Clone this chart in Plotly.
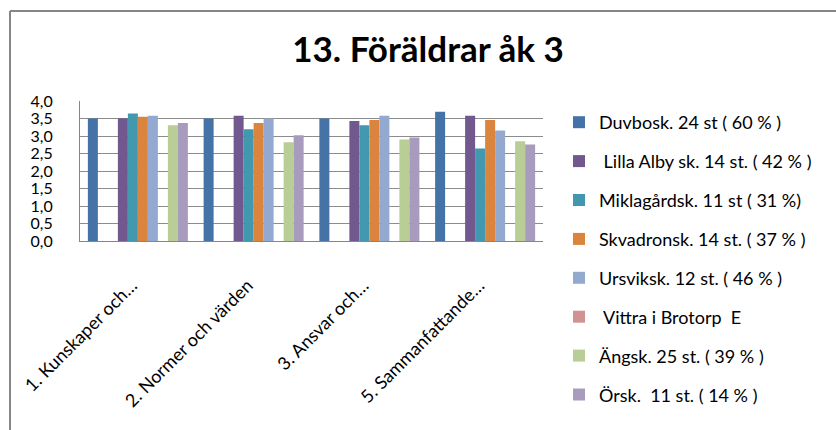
import plotly.graph_objects as go

# categories and series
categories = ["1. Kunskaper och…", "2. Normer och värden", "3. Ansvar och…", "5. Sammanfattande…"]

series_names = [
    "Duvbosk. 24 st ( 60 % )",
    "",
    "",
    "\u00a0Lilla Alby sk. 14 st. ( 42 % )",
    "Miklagårdsk. 11 st ( 31 %)",
    "Skvadronsk. 14 st. ( 37 % )",
    "Ursviksk. 12 st. ( 46 % )",
    "\u00a0Vittra i Brotorp\u00a0 E",
    "Ängsk. 25 st. ( 39 % )",
    "Örsk.\u00a0 11 st. ( 14 % )",
]
series_colors = [
    "#4572A7", "#AA4643", "#89A54E", "#71588F", "#4198AF",
    "#DB843D", "#93A9CF", "#D19392", "#B9CD96", "#A99BBD",
]

duvbosk = [3.50, 3.50, 3.50, 3.69]
empty_a = [None, None, None, None]
empty_b = [None, None, None, None]
lilla_alby = [3.51, 3.58, 3.43, 3.58]
miklagard = [3.64, 3.19, 3.31, 2.64]
skvadron = [3.55, 3.37, 3.46, 3.46]
ursvik = [3.58, 3.50, 3.58, 3.16]
vittra = [None, None, None, None]
angsk = [3.31, 2.82, 2.90, 2.85]
orsk = [3.37, 3.02, 2.96, 2.76]

series_values = [duvbosk, empty_a, empty_b, lilla_alby, miklagard,
                 skvadron, ursvik, vittra, angsk, orsk]

W, H = 836, 430
ML, MR, MT, MB = 80, 293, 101, 189
PW, PH = W - ML - MR, H - MT - MB

FONT = "Lato, 'Open Sans', sans-serif"


def px_x(x):
    return (x - ML) / PW


def px_y(y):
    return (H - MB - y) / PH


fig = go.Figure()
for i, (name, color, vals) in enumerate(zip(series_names, series_colors, series_values)):
    fig.add_trace(go.Bar(
        x=categories, y=vals,
        name=name,
        marker_color=color,
        marker_line_width=0,
        showlegend=bool(name),
        legendgroup=f"g{i}",
    ))

fig.update_layout(
    width=W, height=H,
    barmode="group",
    bargap=0.136, bargroupgap=0,
    separators=",.",
    paper_bgcolor="white", plot_bgcolor="white",
    font=dict(family=FONT, size=18, color="#000000"),
    margin=dict(l=ML, r=MR, t=MT, b=MB, pad=0),
    title=dict(
        text="<b>13. Föräldrar åk 3</b>",
        x=0.512, xanchor="center",
        y=1 - 50 / H, yanchor="middle",
        font=dict(family=FONT, size=35, color="#000000"),
    ),
    legend=dict(
        x=px_x(559), xanchor="left",
        y=px_y(104), yanchor="top",
        maxheight=330,
        traceorder="grouped",
        tracegroupgap=12.5,
        font=dict(family=FONT, size=18, color="#000000"),
        itemclick=False,
    ),
    xaxis=dict(
        tickangle=-45,
        showline=True, linecolor="#868686", linewidth=1,
        showgrid=False,
        ticks="",
        tickfont=dict(size=18),
        ticklabelstandoff=26,
        ticklabelshift=-6,
    ),
    yaxis=dict(
        range=[0, 4], dtick=0.5, tickformat=".1f",
        showline=True, linecolor="#868686", linewidth=1,
        gridcolor="#8c8c8c", gridwidth=1,
        zeroline=False,
        ticks="",
        tickfont=dict(size=16),
        ticklabelstandoff=23,
    ),
    shapes=[
        # outer chart frame (only top and left edges visible)
        dict(type="line", xref="paper", yref="paper",
             x0=px_x(10), x1=px_x(W + 5), y0=px_y(11), y1=px_y(11),
             line=dict(color="#868686", width=2)),
        dict(type="line", xref="paper", yref="paper",
             x0=px_x(10), x1=px_x(10), y0=px_y(11), y1=px_y(H + 5),
             line=dict(color="#868686", width=2)),
    ],
)

# drop the default page margin so the figure sits at the window's top-left
fig.write_html(
    "out.html",
    config={"displayModeBar": False},
    post_script="document.body.style.margin = '0';",
)
